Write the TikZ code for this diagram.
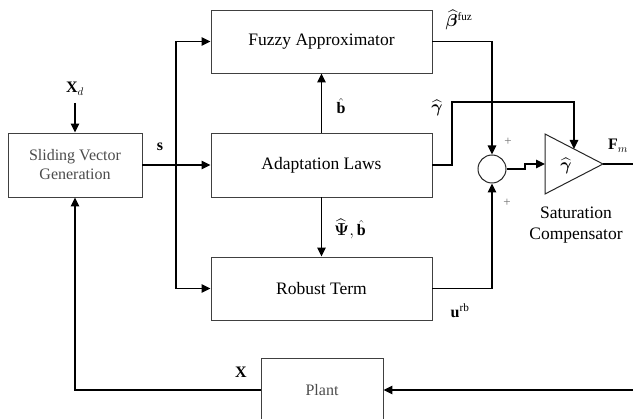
\documentclass[tikz,border=0pt]{standalone}
\usepackage{amsmath,bm}
\usepackage{fontspec}
\setmainfont{Liberation Serif}
\usetikzlibrary{arrows.meta,shadows}
\begin{document}
\begin{tikzpicture}[x=1pt,y=-1pt,
  blk/.style={draw=black!75,line width=0.9pt,fill=white,inner sep=0pt,
    font=\fontsize{17.5}{20}\selectfont,
    drop shadow={opacity=0.18,shadow xshift=1.2pt,shadow yshift=-1.5pt}},
  mainblk/.style={blk,minimum width=221pt,minimum height=63pt},
  graytxt/.style={text=black!70,font=\fontsize{16}{19}\selectfont,align=center},
  lbl/.style={font=\fontsize{16}{19}\selectfont,inner sep=0pt},
  plus/.style={text=black!55,font=\fontsize{13}{15}\selectfont,inner sep=0pt},
  wire/.style={line width=1.4pt,black},
  arr/.style={wire,-{Triangle[length=9pt,width=8.5pt]}}
]
\clip (0,0) rectangle (633,419);
\fill[white] (0,0) rectangle (633,419);

% blocks
\node[blk,minimum width=134pt,minimum height=64pt,graytxt] (svg) at (75,165) {Sliding Vector\\Generation};
\node[mainblk] (fuzzy) at (321.5,41.5) {Fuzzy Approximator};
\node[mainblk,minimum height=64pt] (adapt) at (321.5,165) {Adaptation Laws};
\node[mainblk] (robust) at (321.5,288.5) {Robust Term};
\node[blk,minimum width=122pt,minimum height=64pt,graytxt] (plant) at (322,390) {Plant};
\node[draw=black!85,line width=1pt,circle,minimum size=28pt,inner sep=0pt] (sum) at (492,169) {};
\draw[black!85,line width=1pt] (545,134) -- (603,164) -- (545,194) -- cycle;
\coordinate (triin) at (545,164);
\coordinate (triout) at (603,164);
\coordinate (tritop) at (574,149);
\node[lbl] (trig) at (566,166) {$\widehat{\bm\gamma}$};

% free ends
\coordinate (xd) at (75,103);
\coordinate (br) at (176,165);
\coordinate (gup) at (452,102);
\coordinate (fmend) at (633,164);
\coordinate (uin) at (633,390);
\coordinate (jog) at (525,169);

% connectors
\draw[arr] (xd) -- (svg.north);
\draw[arr] (svg.east) -- (adapt.west);
\draw[arr] (br) |- (fuzzy.west);
\draw[arr] (br) |- (robust.west);
\draw[arr] (adapt.north) -- (fuzzy.south);
\draw[arr] (adapt.south) -- (robust.north);
\draw[arr] (fuzzy.east) -| (sum.north);
\draw[arr] (robust.east) -| (sum.south);
\draw[arr] (adapt.east) -- (gup |- adapt.east) -- (gup) -| (tritop);
\draw[arr] (sum.east) -- (jog) -- (jog |- triin) -- (triin);
\draw[wire] (triout) -- (fmend);
\draw[arr] (uin) -- (plant.east);
\draw[arr] ([yshift=0pt]plant.west) -| (svg.south);

% labels
\node[lbl] (lxd) at (75,89) {$\mathbf{X}_d$};
\node[lbl] (ls) at (160,147) {$\mathbf{s}$};
\node[lbl] (lbeta) at (459,20) {$\widehat{\bm\beta}^{\mathrm{fuz}}$};
\node[lbl] (lb) at (341,106) {$\hat{\mathbf{b}}$};
\node[lbl] (lg) at (437,108) {$\widehat{\bm\gamma}$};
\node[lbl] (lpsi) at (350,229) {$\widehat{\bm\Psi},\hat{\mathbf{b}}$};
\node[lbl] (lu) at (460,311) {$\mathbf{u}^{\mathrm{rb}}$};
\node[lbl] (lx) at (241,372) {$\mathbf{X}$};
\node[lbl] (lfm) at (618,146) {$\mathbf{F}_m$};
\node[plus] (p1) at (508,142) {+};
\node[plus] (p2) at (507,203) {+};
\node[align=center,font=\fontsize{17.5}{20.5}\selectfont,inner sep=0pt] (sat) at (576,225) {Saturation\\Compensator};
\end{tikzpicture}
\end{document}
